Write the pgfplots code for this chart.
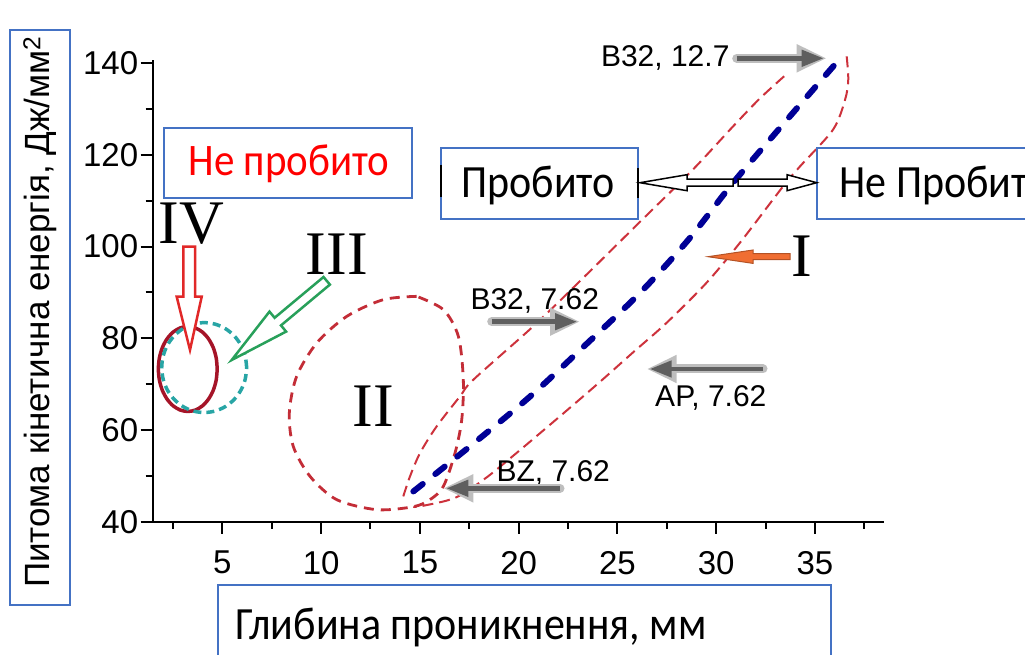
\documentclass[border=0pt]{standalone}
\usepackage{pgfplots}
\pgfplotsset{compat=1.18}
\usepackage{fontspec}
\setmainfont{Liberation Sans}
\newfontfamily\romanf{Liberation Serif}
\newfontfamily\calf{Carlito}
\usetikzlibrary{arrows.meta}
\definecolor{boxblue}{RGB}{68,114,196}
\definecolor{envred}{RGB}{205,50,60}
\definecolor{loopred}{RGB}{195,45,55}
\definecolor{darkblue}{RGB}{0,0,150}
\definecolor{tealc}{RGB}{40,165,165}
\definecolor{ivred}{RGB}{165,20,40}
\definecolor{arrgray}{RGB}{95,95,95}
\definecolor{glowgray}{RGB}{190,190,190}
\definecolor{orangeA}{RGB}{240,110,50}
\definecolor{greenA}{RGB}{40,160,90}
\definecolor{redA}{RGB}{225,40,40}
\newcommand{\grayarrow}[2]{%
  \draw[line width=9pt, glowgray, line cap=round, -{Triangle[length=30pt,width=26pt]}] #1 -- #2;
  \draw[line width=4.5pt, arrgray, shorten >=3pt, -{Triangle[length=22pt,width=16pt]}] #1 -- #2;}
\newcommand{\cstretch}[1]{\scalebox{1}[1.1]{#1}}
\newcommand{\tickfont}{\fontsize{33}{33}\selectfont}
\begin{document}
\begin{tikzpicture}[x=1pt,y=1pt]
\useasboundingbox (0,0) rectangle (1025,654);
\clip (0,0) rectangle (1025,654);
\begin{axis}[
  scale only axis, width=731.3pt, height=462.1pt,
  at={(152.7pt,132.3pt)}, anchor=south west,
  xmin=1.473, xmax=38.5, ymin=40, ymax=140.75,
  axis x line*=bottom, axis y line*=left,
  axis line style={line width=2pt, black},
  xtick={5,10,...,35}, ytick={40,60,...,140},
  minor xtick={2.5,7.5,...,37.5}, minor ytick={50,70,...,130},
  tick align=outside, major tick length=12pt, minor tick length=7pt,
  every tick/.style={line width=2pt, black},
  xticklabel style={font=\tickfont, yshift=-14pt},
  yticklabel style={font=\tickfont, xshift=1pt},
  /pgf/number format/assume math mode=true,
  clip=false,
]
\addplot[envred, line width=2pt, dash pattern=on 11pt off 6pt, smooth] coordinates {
(14.16,45.52) (14.50,49.88) (15.01,54.98) (15.85,60.78) (17.03,67.32) (17.71,70.96)
(20.74,82.6) (23.28,93.2) (26.15,105.4) (28.83,116.8) (30.86,126.2) (32.22,132.3) (33.57,137.6)};
\addplot[envred, line width=2pt, dash pattern=on 11pt off 6pt, smooth] coordinates {
(36.61,141.46) (36.69,136.38) (36.53,132.02) (35.92,125.48) (34.25,117.48) (33.39,113.11)
(31.21,100.84) (29.52,92.12) (27.50,83.39) (25.79,76.9) (24.12,70.5) (22.26,63.6)
(19.90,55.0) (18.30,49.4) (16.78,45.2) (15.01,43.34) (14.67,43.27)};
\addplot[loopred, line width=2.8pt, dash pattern=on 10pt off 7pt, smooth] coordinates {
(14.84,89.13) (13.15,88.41) (11.30,84.77) (9.78,78.97) (8.76,71.68) (8.39,63.70) (8.59,56.42)
(9.44,49.88) (10.79,44.80) (12.82,42.62) (14.67,43.27) (15.51,44.80) (16.19,47.70) (16.78,54.98)
(17.12,62.24) (17.20,70.96) (16.95,80.41) (16.19,86.23) (14.84,89.13)};
\addplot[darkblue, line width=6pt, line cap=round, dash pattern=on 12pt off 16pt, smooth] coordinates {
(14.67,46.6) (17.5,56.3) (20.58,67.3) (23.4,78.6) (26.15,89.9) (28.6,101.5) (30.86,113.9) (33.5,127.2) (36.44,141.8)};
\addplot[ivred, line width=3.5pt, smooth] coordinates {
(4.74,73.30) (4.689,75.70) (4.540,77.94) (4.303,79.85) (3.995,81.33) (3.636,82.25) (3.25,82.57)
(2.864,82.25) (2.505,81.33) (2.197,79.85) (1.960,77.94) (1.811,75.70) (1.76,73.30) (1.811,70.90)
(1.960,68.66) (2.197,66.75) (2.505,65.27) (2.864,64.35) (3.25,64.03) (3.636,64.35) (3.995,65.27)
(4.303,66.75) (4.540,68.66) (4.689,70.90) (4.74,73.30)};
\addplot[tealc, line width=3.5pt, dash pattern=on 8pt off 5pt, smooth] coordinates {
(6.23,73.60) (6.157,76.14) (5.942,78.50) (5.600,80.53) (5.155,82.09) (4.637,83.07) (4.08,83.40)
(3.523,83.07) (3.005,82.09) (2.560,80.53) (2.218,78.50) (2.003,76.14) (1.93,73.60) (2.003,71.06)
(2.218,68.70) (2.560,66.67) (3.005,65.11) (3.523,64.13) (4.08,63.80) (4.637,64.13) (5.155,65.11)
(5.600,66.67) (5.942,68.70) (6.157,71.06) (6.23,73.60)};
\end{axis}
\begin{scope}[y=-1pt, yshift=654pt]
\draw[boxblue, line width=2pt, fill=white] (10,30) rectangle (70,605);
\node[rotate=90, font=\fontsize{35}{35}\selectfont] at (40,312) {Питома кінетична енергія, Дж/мм\textsuperscript{2}};
\draw[boxblue, line width=2pt, fill=white] (218,585) rectangle (831,670);
\node[anchor=base west, font=\calf\fontsize{42}{42}\selectfont] at (232,639) {\cstretch{Глибина проникнення, мм}};
\draw[boxblue, line width=2pt, fill=white] (164,128) rectangle (412,198);
\node[anchor=base west, text=red, font=\calf\fontsize{41}{41}\selectfont] at (185,176) {\cstretch{Не пробито}};
\draw[boxblue, line width=2pt, fill=white] (441,148) rectangle (638,219);
\node[anchor=base west, font=\calf\fontsize{42}{42}\selectfont] at (458,198) {\cstretch{Пробито}};
\draw[black, line width=2pt] (441,165) -- (441,197);
\draw[black, line width=2pt] (638,168) -- (638,198);
\draw[boxblue, line width=2pt, fill=white] (817,148) rectangle (1100,219);
\node[anchor=base west, font=\calf\fontsize{42}{42}\selectfont] at (836,198) {\cstretch{Не Пробито}};
\draw[black, line width=1.5pt, fill=white] (733,179.2) -- (687,179.2) -- (687,174.7) -- (640,182.7) -- (687,190.7) -- (687,186.2) -- (733,186.2) -- cycle;
\draw[black, line width=1.5pt, fill=white] (738,179.2) -- (787,179.2) -- (787,174.7) -- (816.7,182.7) -- (787,190.7) -- (787,186.2) -- (738,186.2) -- cycle;
\draw[fill=orangeA, draw=orangeA!75!black, line width=1pt] (790,253.7) -- (753,253.7) -- (753,250) -- (708,256.7) -- (753,263.4) -- (753,259.7) -- (790,259.7) -- cycle;
\node[font=\romanf\fontsize{62}{62}\selectfont] at (801.7,256.7) {I};
\node[font=\romanf\fontsize{62}{62}\selectfont] at (373,406.7) {II};
\node[font=\romanf\fontsize{62}{62}\selectfont] at (336.7,254) {III};
\node[font=\romanf\fontsize{62}{62}\selectfont] at (191.7,223.3) {IV};
\draw[redA, line width=2.5pt, fill=white, line join=miter] (183.3,246.7) -- (195,246.7) -- (195,296.7) -- (201.7,296.7) -- (190,350) -- (176.7,296.7) -- (183.3,296.7) -- cycle;
\draw[greenA, line width=2.5pt, fill=white] (323.5,277.0) -- (274.6,317.8) -- (269.5,311.6) -- (231.7,360) -- (286.1,331.6) -- (281.0,325.4) -- (329.9,284.6) -- cycle;
\node[anchor=base east, font=\fontsize{30}{30}\selectfont] at (733,66.7) {B32, 12.7};
\grayarrow{(736.7,58.3)}{(826.7,58.3)}
\node[anchor=base west, font=\fontsize{30}{30}\selectfont] at (467,310) {B32, 7.62};
\grayarrow{(491.7,321.7)}{(580,321.7)}
\node[anchor=base west, font=\fontsize{30}{30}\selectfont] at (493,481.7) {BZ, 7.62};
\grayarrow{(560,488.3)}{(443.3,488.3)}
\node[anchor=base west, font=\fontsize{30}{30}\selectfont] at (651.7,406.7) {AP, 7.62};
\grayarrow{(763,369)}{(646.7,369)}
\end{scope}
\end{tikzpicture}
\end{document}
